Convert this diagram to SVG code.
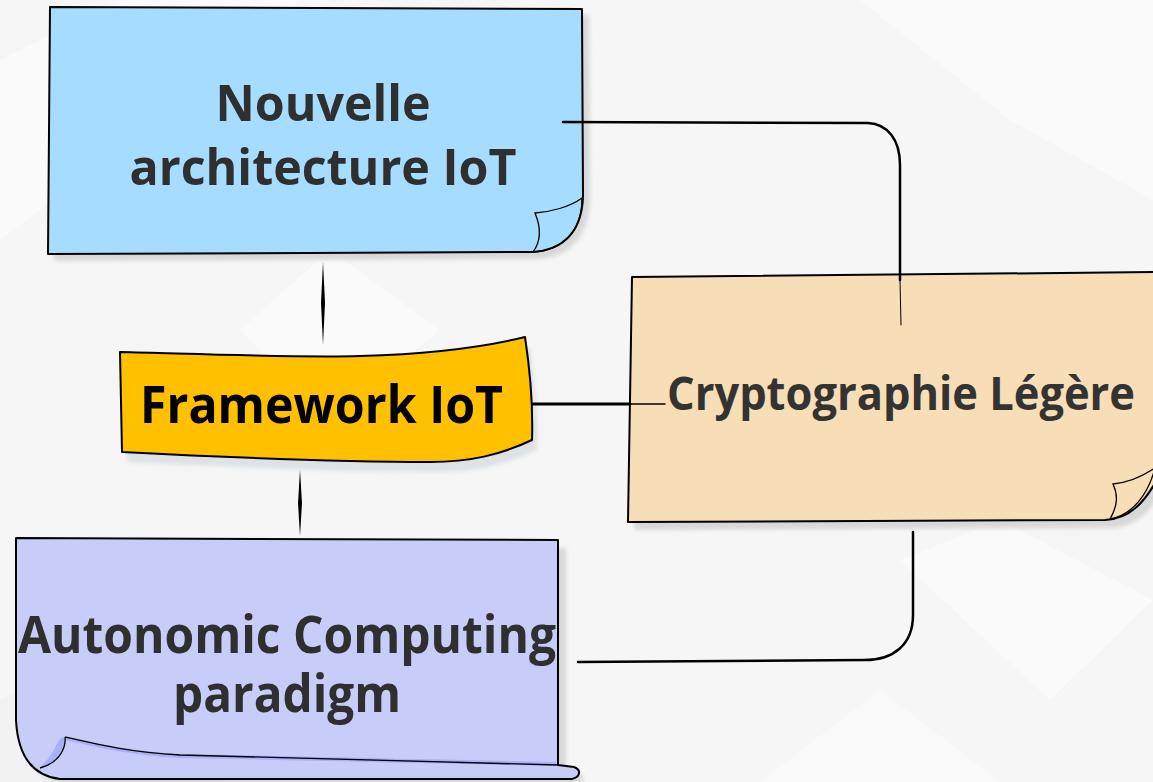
<svg xmlns="http://www.w3.org/2000/svg" width="1153" height="782" viewBox="0 0 1153 782">
<defs>
<style>
.lbl{font-family:"Open Sans","Noto Sans","Liberation Sans",sans-serif;font-weight:700;text-anchor:middle}
.out{stroke:#000;stroke-width:2;stroke-linejoin:round}
.thin{fill:none;stroke:#000;stroke-width:1.3}
.conn{fill:none;stroke:#000;stroke-linecap:round}
</style>
<filter id="sh" x="-10%" y="-10%" width="130%" height="130%"><feGaussianBlur stdDeviation="2"/></filter>
</defs>
<rect width="1153" height="782" fill="#f6f6f6"/>
<g id="background" opacity="0.8">
<polygon points="0,60 120,0 300,0 120,150 0,240" fill="#fbfbfb"/>
<polygon points="240,330 330,250 440,330 330,420" fill="#fbfbfb"/>
<polygon points="860,0 1153,0 1153,200 1010,120" fill="#fbfbfb"/>
<polygon points="900,560 1000,520 1153,600 1050,700" fill="#fbfbfb"/>
<polygon points="0,700 120,640 230,782 0,782" fill="#f1f1f1"/>
<polygon points="760,782 880,690 1000,782" fill="#fafafa"/>
</g>
<g id="node-nouvelle">
<path d="M56,13 L589,15 L590,200 C589,240 566,257 539,259 L54,261 Z" fill="#d8d8d8" filter="url(#sh)"/>
<path class="out" d="M50,7 L582,9 L583,196 C582,235 560,250 533,252 L48,254 Z" fill="#a6dcff"/>
<path d="M535,213 C550,212 570,207 582,198 C582,230 565,250 533,252 C542,240 540,225 535,213 Z" fill="#90d2f2" class="thin"/>
<text class="lbl" x="323" y="121" font-size="50" fill="#2f2f2f" textLength="215" lengthAdjust="spacingAndGlyphs">Nouvelle</text>
<text class="lbl" x="323" y="185" font-size="50" fill="#2f2f2f" textLength="387" lengthAdjust="spacingAndGlyphs">architecture IoT</text>
</g>
<g id="node-framework">
<path d="M125,362 C205,364 305,368 365,366 C435,364 485,358 530,347 C535,380 538,420 537,450 C505,465 475,472 435,472 C335,472 205,466 127,462 Z" fill="#dde2e6" filter="url(#sh)"/>
<path class="out" stroke-width="2.5" d="M120,352 C200,354 300,358 360,356 C430,354 480,348 525,337 C530,370 533,410 532,440 C500,455 470,462 430,462 C330,462 200,456 122,452 Z" fill="#ffc000"/>
<text class="lbl" x="321.5" y="423" font-size="52" fill="#000" textLength="363" lengthAdjust="spacingAndGlyphs">Framework IoT</text>
</g>
<g id="node-crypto">
<path d="M636,284 L1165,279 L1165,485 C1150,515 1133,527 1112,528 L634,530 Z" fill="#d8d8d8" filter="url(#sh)"/>
<path class="out" d="M632,277 L1162,272 L1162,470 C1145,505 1128,519 1105,520 L628,522 Z" fill="#f7deb6"/>
<path d="M1113,484 C1125,483 1140,478 1155,468 C1148,495 1132,515 1110,519 C1118,505 1118,495 1113,484 Z" fill="#f2cd8a" class="thin"/>
<text class="lbl" x="901" y="410" font-size="47" fill="#333" textLength="468" lengthAdjust="spacingAndGlyphs">Cryptographie Légère</text>
</g>
<g id="node-autonomic">
<path d="M22,546 L566,548 L566,771 L580,774 C586,777 584,782 578,784 L66,784 C40,781 24,766 22,726 Z" fill="#d8d8d8" filter="url(#sh)"/>
<path class="out" d="M16,538 L558,540 L558,765 L574,767 C582,770 580,777 572,779 L60,779 C35,776 18,760 16,720 Z" fill="#c8ccf8"/>
<path d="M65,736 C100,744 130,751 180,754 L556,762 L556,766 L180,758 C130,755 100,748 65,740 Z" fill="#a9b1f7"/>
<path d="M40,768 C62,762 66,745 65,737 C58,737 56,748 50,756 C46,762 42,765 40,768 Z" fill="#a9b1f7"/>
<path class="thin" stroke-width="1.8" d="M65,737 C66,745 62,762 40,768 M65,737 C100,745 130,752 180,755 L558,765"/>
<text class="lbl" x="287" y="653" font-size="52" fill="#2f2f2f" textLength="538" lengthAdjust="spacingAndGlyphs">Autonomic Computing</text>
<text class="lbl" x="287" y="712" font-size="52" fill="#2f2f2f" textLength="228" lengthAdjust="spacingAndGlyphs">paradigm</text>
</g>
<g id="connectors">
<path class="conn" d="M563,122 L868,123 C888,124 900,140 900,165 L900,280" stroke-width="2.5"/>
<path class="conn" d="M900,280 L901,325" stroke-width="1" stroke="#555"/>
<polygon points="323,262 325,303 323,345 321,303" fill="#000"/>
<path class="conn" d="M533,404 L630,404" stroke-width="3"/>
<path class="conn" d="M630,404 L665,404" stroke-width="1.5"/>
<polygon points="300,470 302,503 300,536 298,503" fill="#000"/>
<path class="conn" d="M913,532 L913,615 C913,645 893,660 865,660 L578,662" stroke-width="2.5"/>
</g>
</svg>
